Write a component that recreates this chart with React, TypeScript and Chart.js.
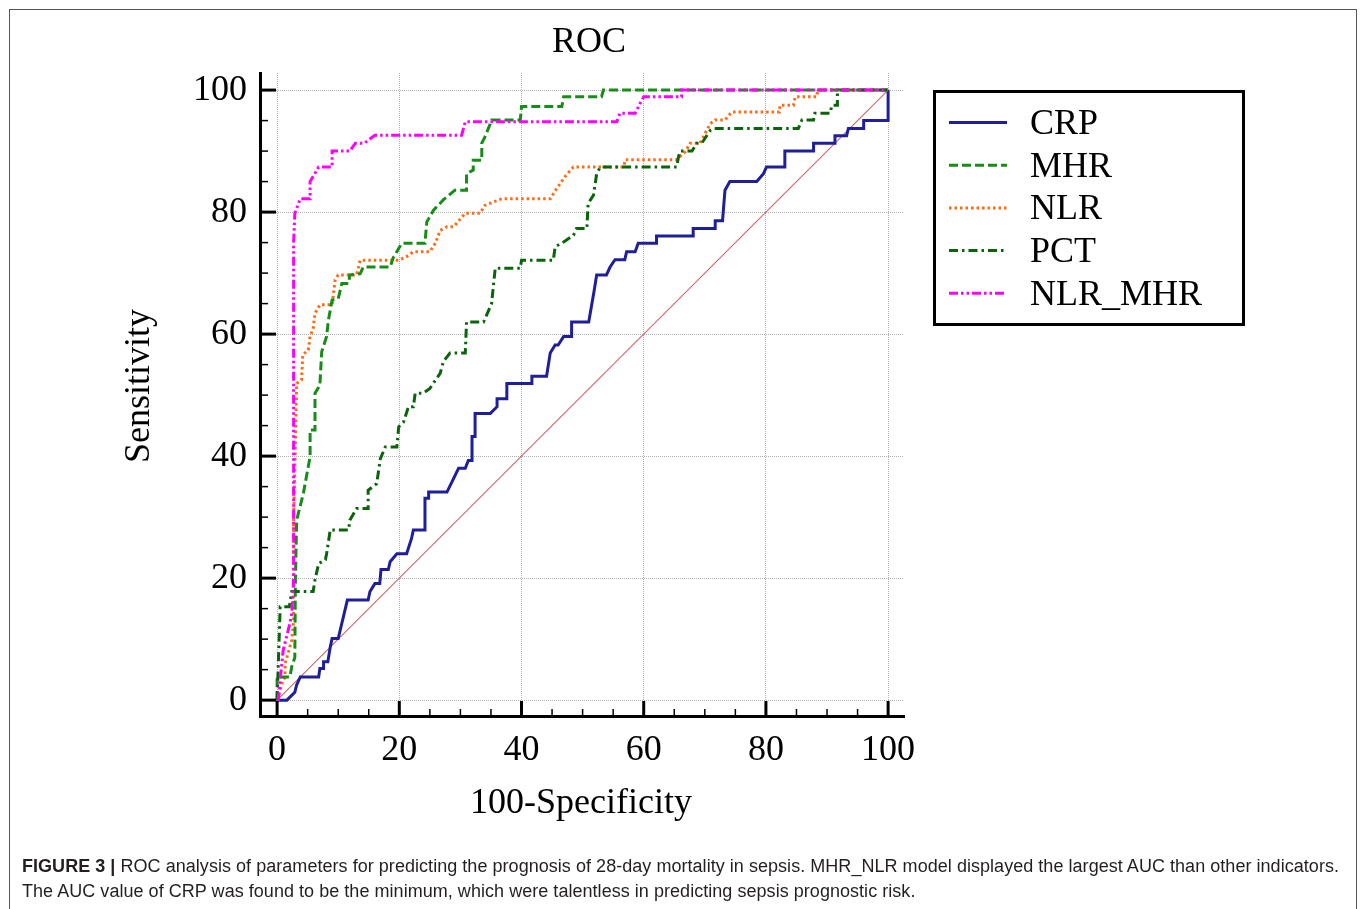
import React, { useEffect, useRef } from "react";
import { Chart, registerables } from "chart.js";

Chart.register(...registerables);

// ---------- text ----------
const TITLE = "ROC";
const X_TITLE = "100-Specificity";
const Y_TITLE = "Sensitivity";
const CAPTION_LABEL = "FIGURE 3 |";
const CAPTION_LINE1 =
  " ROC analysis of parameters for predicting the prognosis of 28-day mortality in sepsis. MHR_NLR model displayed the largest AUC than other indicators.";
const CAPTION_LINE2 =
  "The AUC value of CRP was found to be the minimum, which were talentless in predicting sepsis prognostic risk.";

// ---------- axes ----------
const SERIES_NAMES = ["CRP", "MHR", "NLR", "PCT", "NLR_MHR"];
const MAJOR_TICKS = [0, 20, 40, 60, 80, 100];
const MINOR_TICKS = [5, 10, 15, 25, 30, 35, 45, 50, 55, 65, 70, 75, 85, 90, 95];

// ---------- data (x = 100-Specificity, y = Sensitivity) ----------
const CRP_X = [0, 1.6, 2.9, 3.2, 3.8, 6.8, 7.0, 7.6, 7.6, 8.3, 8.7, 9.0, 10.0, 11.5, 14.9, 15.2, 16.0, 16.8, 17.0, 18.2, 18.5, 19.6, 21.2, 22.0, 22.3, 24.2, 24.2, 24.8, 24.8, 27.8, 29.7, 30.8, 31.3, 31.9, 31.9, 32.4, 32.4, 34.9, 36.0, 36.0, 37.6, 37.6, 41.7, 41.7, 44.1, 44.7, 45.5, 46.0, 46.9, 48.2, 48.2, 51.0, 51.9, 52.3, 53.9, 54.5, 55.3, 56.9, 57.2, 58.6, 59.1, 62.1, 62.1, 68.1, 68.1, 71.7, 71.7, 72.9, 73.3, 74.1, 78.5, 79.6, 80.1, 83.1, 83.1, 87.8, 87.8, 91.3, 91.3, 93.2, 93.5, 96.0, 96.0, 100, 100];
const CRP_Y = [0, 0, 1.3, 2.5, 3.8, 3.8, 5.2, 5.2, 6.3, 6.3, 8.7, 10.1, 10.1, 16.4, 16.4, 17.8, 19.1, 19.1, 21.4, 21.4, 22.7, 24.0, 24.0, 26.5, 27.9, 27.9, 33.1, 33.1, 34.1, 34.1, 38.0, 38.0, 39.3, 39.3, 43.2, 43.2, 47.0, 47.0, 48.1, 49.4, 49.4, 51.9, 51.9, 53.1, 53.1, 56.9, 58.2, 58.2, 59.6, 59.6, 62.0, 62.0, 67.2, 69.7, 69.7, 71.0, 72.2, 72.2, 73.5, 73.5, 74.9, 74.9, 76.1, 76.1, 77.3, 77.3, 78.6, 78.6, 83.6, 85.0, 85.0, 86.3, 87.4, 87.4, 90.0, 90.0, 91.3, 91.3, 92.5, 92.5, 93.7, 93.7, 95.0, 95.0, 100];

const MHR_X = [0, 0, 2.1, 2.4, 2.9, 3.0, 3.2, 4.3, 4.9, 5.4, 5.4, 6.2, 6.2, 7.0, 7.3, 8.1, 8.4, 9.0, 10.0, 10.6, 11.7, 11.9, 13.6, 14.1, 18.5, 19.0, 20.4, 24.2, 24.5, 25.6, 27.2, 29.1, 31.0, 31.0, 32.1, 32.1, 33.5, 33.5, 34.0, 34.9, 35.1, 39.8, 40.0, 46.6, 46.9, 53.1, 53.4, 100];
const MHR_Y = [0, 3.8, 3.8, 5.5, 7.0, 20.0, 29.5, 33.9, 37.2, 39.9, 44.3, 44.3, 50.3, 51.6, 57.1, 59.6, 62.3, 65.6, 65.8, 68.3, 68.3, 69.7, 69.9, 71.0, 71.0, 72.5, 74.9, 74.9, 78.4, 80.3, 82.0, 83.6, 83.6, 86.3, 86.9, 88.5, 88.5, 91.3, 92.3, 94.5, 95.1, 95.1, 97.3, 97.3, 98.9, 98.9, 100, 100];

const NLR_X = [0, 0.8, 1.3, 1.3, 2.4, 2.7, 2.7, 2.9, 3.2, 4.0, 4.2, 5.1, 5.4, 5.9, 6.2, 7.0, 9.0, 9.5, 10.0, 13.0, 13.6, 19.9, 21.2, 22.3, 25.0, 25.9, 26.7, 27.8, 28.9, 30.8, 33.2, 34.0, 36.8, 44.7, 45.8, 47.1, 48.5, 56.7, 57.0, 65.4, 66.8, 67.6, 69.2, 70.9, 71.7, 73.3, 74.4, 82.2, 82.3, 84.5, 84.8, 88.3, 88.5, 100];
const NLR_Y = [0, 2.7, 3.8, 6.0, 9.8, 13.1, 29.5, 38.3, 51.9, 52.5, 56.6, 57.4, 59.6, 60.9, 63.4, 64.8, 64.8, 68.9, 69.7, 69.7, 72.1, 72.1, 72.7, 73.5, 73.5, 74.9, 77.0, 77.6, 77.6, 79.8, 79.8, 81.1, 82.2, 82.2, 83.9, 85.8, 87.4, 87.4, 88.6, 88.6, 89.9, 91.3, 91.3, 94.5, 95.1, 95.1, 96.4, 96.4, 97.5, 97.5, 98.9, 98.9, 100, 100];

const PCT_X = [0, 0.3, 0.5, 2.0, 2.4, 5.9, 6.2, 6.8, 7.9, 8.1, 8.7, 11.7, 11.9, 13.0, 14.9, 14.9, 16.3, 16.9, 17.7, 19.6, 19.9, 20.7, 21.5, 22.3, 22.6, 23.9, 25.0, 26.7, 27.2, 28.3, 30.8, 31.0, 33.8, 35.1, 35.7, 39.8, 40.0, 45.2, 45.5, 46.9, 48.5, 49.0, 50.7, 50.9, 51.8, 52.3, 52.9, 65.4, 65.7, 66.0, 67.9, 68.7, 69.5, 70.9, 71.4, 85.3, 85.9, 87.8, 88.0, 90.5, 90.8, 91.7, 91.7, 92.0, 100];
const PCT_Y = [0, 9.0, 15.3, 15.3, 17.8, 17.8, 19.7, 22.4, 23.0, 24.0, 27.9, 27.9, 29.5, 31.4, 31.4, 34.4, 35.5, 39.6, 41.5, 41.5, 44.8, 45.6, 48.1, 48.1, 50.3, 50.3, 51.1, 53.6, 55.5, 56.9, 56.9, 62.0, 62.0, 65.0, 70.8, 70.8, 72.1, 72.1, 74.3, 75.1, 76.2, 77.3, 77.3, 81.4, 82.8, 86.3, 87.4, 87.4, 89.1, 90.0, 90.0, 91.3, 91.3, 93.4, 93.7, 93.7, 95.1, 95.1, 96.2, 96.2, 97.5, 97.5, 99.5, 100, 100];

const NLR_MHR_X = [0, 0.2, 0.5, 1.0, 2.1, 2.4, 2.7, 2.7, 2.9, 3.8, 5.4, 5.4, 6.8, 9.0, 9.0, 11.9, 12.8, 14.3, 16.0, 30.2, 30.8, 55.6, 56.1, 58.6, 59.4, 60.0, 66.2, 66.2, 100];
const NLR_MHR_Y = [0, 0, 3.3, 8.2, 12.6, 14.2, 19.7, 74.9, 79.8, 82.2, 82.2, 85.0, 87.4, 87.4, 90.0, 90.0, 91.3, 91.3, 92.6, 92.6, 94.8, 94.8, 96.2, 96.2, 97.8, 98.9, 98.9, 100, 100];

const REF_X = [0, 100];
const REF_Y = [0, 100];

// ---------- styles ----------
const SERIES_STYLE: Record<string, { color: string; dash: number[] }> = {
  CRP: { color: "#1f1f99", dash: [] },
  MHR: { color: "#178c17", dash: [9, 4] },
  NLR: { color: "#ff6a12", dash: [2.5, 3] },
  PCT: { color: "#0a640a", dash: [9, 4, 2.5, 4] },
  NLR_MHR: { color: "#ff00ff", dash: [9, 3, 2.5, 3, 2.5, 3] },
};

const SERIF = '"Liberation Serif", "Times New Roman", serif';

const zip = (xs: number[], ys: number[]) => xs.map((x, i) => ({ x, y: ys[i] }));

const decorPlugin = {
  id: "decor",
  afterDraw(chart: any) {
    const { ctx, chartArea: ca, scales } = chart;
    const xs = scales.x;
    const ys = scales.y;
    ctx.save();
    ctx.strokeStyle = "#000";
    ctx.setLineDash([]);
    // minor ticks (inward)
    ctx.lineWidth = 1.5;
    for (const v of MINOR_TICKS) {
      const px = xs.getPixelForValue(v);
      ctx.beginPath();
      ctx.moveTo(px, ca.bottom);
      ctx.lineTo(px, ca.bottom - 7);
      ctx.stroke();
      const py = ys.getPixelForValue(v);
      ctx.beginPath();
      ctx.moveTo(ca.left, py);
      ctx.lineTo(ca.left + 8, py);
      ctx.stroke();
    }
    // major ticks
    ctx.lineWidth = 3;
    for (const v of MAJOR_TICKS) {
      const px = xs.getPixelForValue(v);
      ctx.beginPath();
      ctx.moveTo(px, ca.bottom);
      ctx.lineTo(px, ca.bottom - 15);
      ctx.stroke();
      const py = ys.getPixelForValue(v);
      ctx.beginPath();
      ctx.moveTo(ca.left, py);
      ctx.lineTo(ca.left + 16, py);
      ctx.stroke();
    }
    // titles
    ctx.fillStyle = "#000";
    ctx.font = `36px ${SERIF}`;
    ctx.textAlign = "center";
    ctx.textBaseline = "alphabetic";
    ctx.fillText(TITLE, 589, 52);
    ctx.fillText(X_TITLE, 581, 813);
    ctx.save();
    ctx.translate(149, 386);
    ctx.rotate(-Math.PI / 2);
    ctx.fillText(Y_TITLE, 0, 0);
    ctx.restore();

    // legend
    ctx.lineWidth = 3;
    ctx.strokeRect(934.5, 91.5, 309, 233);
    const items = chart.data.datasets.filter((d: any) => SERIES_NAMES.includes(d.label));
    items.sort((a: any, b: any) => SERIES_NAMES.indexOf(a.label) - SERIES_NAMES.indexOf(b.label));
    items.forEach((d: any, i: number) => {
      const rowY = 122.5 + i * 42.7;
      ctx.save();
      ctx.strokeStyle = d.borderColor;
      ctx.lineWidth = 3;
      ctx.setLineDash(d.borderDash || []);
      ctx.beginPath();
      ctx.moveTo(949, rowY);
      ctx.lineTo(1007, rowY);
      ctx.stroke();
      ctx.restore();
      ctx.fillStyle = "#000";
      ctx.textAlign = "left";
      ctx.font = `36px ${SERIF}`;
      ctx.fillText(d.label, 1030, rowY + 11.5);
    });
    ctx.restore();
  },
};

export default function App() {
  const canvasRef = useRef<HTMLCanvasElement | null>(null);

  useEffect(() => {
    const canvas = canvasRef.current;
    if (!canvas) return;
    const series: Record<string, { x: number[]; y: number[] }> = {
      CRP: { x: CRP_X, y: CRP_Y },
      MHR: { x: MHR_X, y: MHR_Y },
      NLR: { x: NLR_X, y: NLR_Y },
      PCT: { x: PCT_X, y: PCT_Y },
      NLR_MHR: { x: NLR_MHR_X, y: NLR_MHR_Y },
    };
    const drawOrder: Record<string, number> = { CRP: 5, MHR: 3, NLR: 4, PCT: 2, NLR_MHR: 1 };
    const datasets: any[] = SERIES_NAMES.map((name) => ({
      label: name,
      data: zip(series[name].x, series[name].y),
      borderColor: SERIES_STYLE[name].color,
      borderDash: SERIES_STYLE[name].dash,
      borderWidth: 3,
      pointRadius: 0,
      tension: 0,
      fill: false,
      order: drawOrder[name],
    }));
    datasets.push({
      label: "reference",
      data: zip(REF_X, REF_Y),
      borderColor: "#cc6e6e",
      borderWidth: 1.2,
      pointRadius: 0,
      tension: 0,
      fill: false,
      order: 10,
    });

    const tickFont = { family: SERIF, size: 36 };
    const chart = new Chart(canvas, {
      type: "line",
      data: { datasets },
      options: {
        animation: false,
        responsive: false,
        layout: { padding: { left: 160, right: 456, top: 73, bottom: 133 } },
        plugins: {
          legend: { display: false },
          title: { display: false },
          tooltip: { enabled: false },
        },
        scales: {
          x: {
            type: "linear",
            min: -2.8,
            max: 102.6,
            afterFit: (s: any) => {
              s.height = 60;
            },
            ticks: {
              stepSize: 20,
              includeBounds: false,
              autoSkip: false,
              maxRotation: 0,
              color: "#000",
              font: tickFont,
              padding: 13,
            },
            grid: { color: "#b0b0b0", lineWidth: 1, drawTicks: false },
            border: { display: true, color: "#000", width: 3, dash: [1, 1] },
          },
          y: {
            type: "linear",
            min: -2.6,
            max: 102.8,
            afterFit: (s: any) => {
              s.width = 100;
            },
            ticks: {
              stepSize: 20,
              includeBounds: false,
              autoSkip: false,
              color: "#000",
              font: tickFont,
              padding: 13,
            },
            grid: { color: "#b0b0b0", lineWidth: 1, drawTicks: false },
            border: { display: true, color: "#000", width: 3, dash: [1, 1] },
          },
        },
      } as any,
      plugins: [decorPlugin],
    });
    return () => chart.destroy();
  }, []);

  return (
    <div
      style={{
        position: "fixed",
        left: 0,
        top: 0,
        width: 1360,
        height: 909,
        overflow: "hidden",
        background: "#fff",
      }}
    >
      <div
        style={{
          position: "absolute",
          left: 9,
          top: 9,
          width: 1346,
          height: 905,
          border: "1.5px solid #555",
          borderBottom: "none",
        }}
      />
      <canvas
        ref={canvasRef}
        width={1360}
        height={909}
        style={{ position: "absolute", left: 0, top: 0 }}
      />
      <div
        style={{
          position: "absolute",
          left: 22,
          top: 854,
          fontFamily: '"Liberation Sans", Arial, sans-serif',
          fontSize: 18,
          letterSpacing: "0.04px",
          lineHeight: "25px",
          color: "#231f20",
          whiteSpace: "nowrap",
        }}
      >
        <b>{CAPTION_LABEL}</b>
        {CAPTION_LINE1}
        <br />
        {CAPTION_LINE2}
      </div>
    </div>
  );
}
